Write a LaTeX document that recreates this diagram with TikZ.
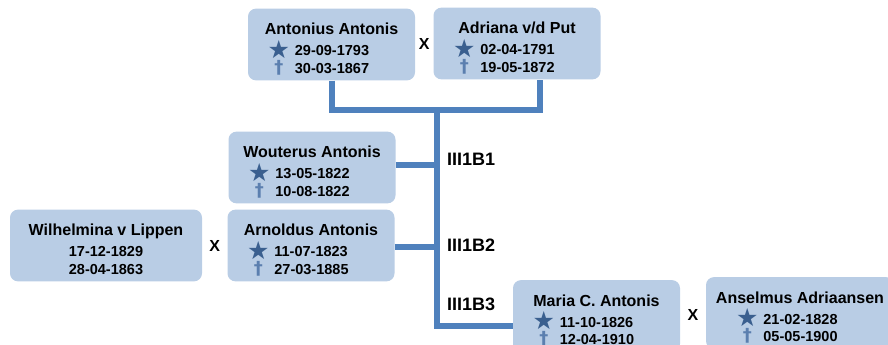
\documentclass[tikz,border=0pt]{standalone}
\usepackage{fontspec}
\setmainfont{Liberation Sans}
\newfontfamily\symfont{DejaVu Sans}
\usetikzlibrary{positioning, calc}
\definecolor{vak}{HTML}{B9CDE5}
\definecolor{lijn}{HTML}{4F81BD}
\definecolor{ster}{HTML}{3A5F8F}
\definecolor{kruisje}{HTML}{5B7FAF}
\newcommand{\geb}{\makebox[18pt]{\smash{\raisebox{-2.5pt}{\fontsize{25}{25}\symfont\color{ster}★}}}}
\newcommand{\ovl}{\makebox[18pt]{\smash{\fontsize{18}{18}\symfont\color{kruisje}†}}}
\newcommand{\persoon}[3]{\rule{0pt}{24pt}#1\\{\fontsize{14.5}{17.5}\selectfont\begin{tabular}[t]{@{}c@{\hspace{7pt}}l@{\hspace{24pt}}}\geb & #2\\ \ovl & #3\end{tabular}}}
\newcommand{\aangetrouwd}[3]{\rule{0pt}{24pt}#1\\{\fontsize{14.5}{17.5}\selectfont\begin{tabular}[t]{@{}c@{}}#2\\ #3\end{tabular}}}

\begin{document}
\begin{tikzpicture}[x=1pt,y=-1pt,
    persoon/.style={rectangle,rounded corners=8pt,fill=vak,minimum width=167pt,minimum height=66pt,
        align=center,inner sep=2pt,font=\bfseries\fontsize{16}{21}\selectfont},
    huwelijk/.style={font=\bfseries\fontsize{16}{16}\selectfont,inner sep=0pt},
    generatie/.style={font=\bfseries\fontsize{18}{18}\selectfont,inner sep=0pt,anchor=west},
    tak/.style={draw=lijn,line width=6pt}]
    \useasboundingbox (0,0) rectangle (888,345);
    \clip (0,0) rectangle (888,345);
    % ouders
    \node[persoon] (antonius) at (331.5,44.5) {\persoon{Antonius Antonis}{29-09-1793}{30-03-1867}};
    \node[persoon,minimum height=67pt] (adriana) at (517,43.5) {\persoon{Adriana v/d Put}{02-04-1791}{19-05-1872}};
    \node[huwelijk] (x1) at ($(antonius.east)!0.5!(adriana.west)$) {X};
    % kinderen
    \node[persoon] (wouterus) at (312,167.5) {\persoon{Wouterus Antonis}{13-05-1822}{10-08-1822}};
    \node[persoon] (arnoldus) at (311,245.5) {\persoon{Arnoldus Antonis}{11-07-1823}{27-03-1885}};
    \node[persoon,minimum width=192pt] (wilhelmina) at (106,245.5) {\aangetrouwd{Wilhelmina v Lippen}{17-12-1829}{28-04-1863}};
    \node[huwelijk] (x2) at ($(wilhelmina.east)!0.5!(arnoldus.west)$) {X};
    \node[persoon,minimum height=62pt] (maria) at (596.5,316) {\persoon{Maria C. Antonis}{11-10-1826}{12-04-1910}};
    \node[persoon,minimum width=188pt,minimum height=62pt] (anselmus) at (800,313) {\persoon{Anselmus Adriaansen}{21-02-1828}{05-05-1900}};
    \node[huwelijk] (x3) at ($(maria.east)!0.5!(anselmus.west)$) {X};
    % lijnen
    \coordinate (huw) at (437,110);
    \draw[tak] (antonius.south) |- (huw) -| ([xshift=23pt]adriana.south);
    \draw[tak] (huw) |- ([yshift=-10pt]maria.west);
    \draw[tak] ([yshift=3pt]wouterus.east) -- ([yshift=3pt]wouterus.east -| huw);
    \draw[tak] ([yshift=-1.5pt]arnoldus.east) -- ([yshift=-1.5pt]arnoldus.east -| huw);
    \node[generatie] (g1) at (447,159) {III1B1};
    \node[generatie] (g2) at (447,245) {III1B2};
    \node[generatie] (g3) at (447,304) {III1B3};
\end{tikzpicture}
\end{document}
